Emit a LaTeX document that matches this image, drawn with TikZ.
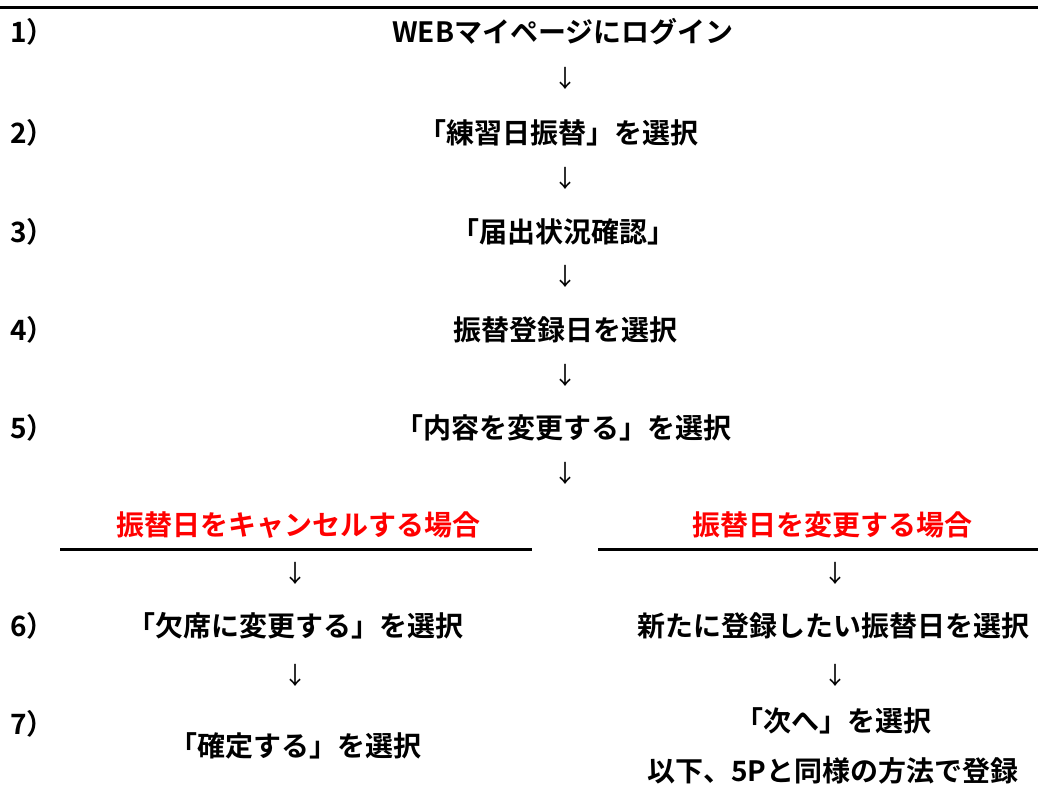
\documentclass[tikz,border=0pt]{standalone}
\usepackage{fontspec}
\setmainfont{Noto Sans CJK JP}[BoldFont={Noto Sans CJK JP Bold}]
\definecolor{headred}{RGB}{255,0,0}
\begin{document}
\begin{tikzpicture}[x=1pt,y=-1pt,
  txt/.style={inner sep=0pt,font=\fontsize{28}{32}\selectfont\bfseries,anchor=center},
  num/.style={inner sep=0pt,font=\fontsize{28}{32}\selectfont\bfseries,anchor=west},
  arr/.style={inner sep=0pt,font=\fontsize{24}{28}\selectfont},
  head/.style={txt,text=headred},
  rule/.style={line width=3pt}]
\useasboundingbox (0,0) rectangle (1038,785);
\fill[white] (0,0) rectangle (1038,785);
\draw[rule] (0,7) -- (1038,7);
% step numbers
\node[num] (n1) at (10,32) {1）};
\node[num] (n2) at (10,133) {2）};
\node[num] (n3) at (10,232) {3）};
\node[num] (n4) at (10,330) {4）};
\node[num] (n5) at (10,428) {5）};
\node[num] (n6) at (10,626) {6）};
\node[num] (n7) at (10,724) {7）};
% main column
\node[txt] (s1) at (563,32) {WEBマイページにログイン};
\node[arr] (a1) at (565,78) {↓};
\node[txt] (s2) at (558,133) {「練習日振替」を選択};
\node[arr] (a2) at (565,178) {↓};
\node[txt] (s3) at (563,232) {「届出状況確認」};
\node[arr] (a3) at (565,276) {↓};
\node[txt] (s4) at (565,330) {振替登録日を選択};
\node[arr] (a4) at (565,375) {↓};
\node[txt] (s5) at (563,428) {「内容を変更する」を選択};
\node[arr] (a5) at (565,473) {↓};
% branches
\node[head] (hl) at (298,525) {振替日をキャンセルする場合};
\node[head] (hr) at (832,525) {振替日を変更する場合};
\draw[rule] (60,549) -- (532,549);
\draw[rule] (598,549) -- (1038,549);
\node[arr] (la1) at (295,573) {↓};
\node[arr] (ra1) at (835,573) {↓};
\node[txt] (l6) at (295,626) {「欠席に変更する」を選択};
\node[txt] (r6) at (833,626) {新たに登録したい振替日を選択};
\node[arr] (la2) at (295,675) {↓};
\node[arr] (ra2) at (835,675) {↓};
\node[txt] (l7) at (295,746) {「確定する」を選択};
\node[txt] (r7a) at (833,721) {「次へ」を選択};
\node[txt] (r7b) at (833,771) {以下、5Pと同様の方法で登録};
\end{tikzpicture}
\end{document}
